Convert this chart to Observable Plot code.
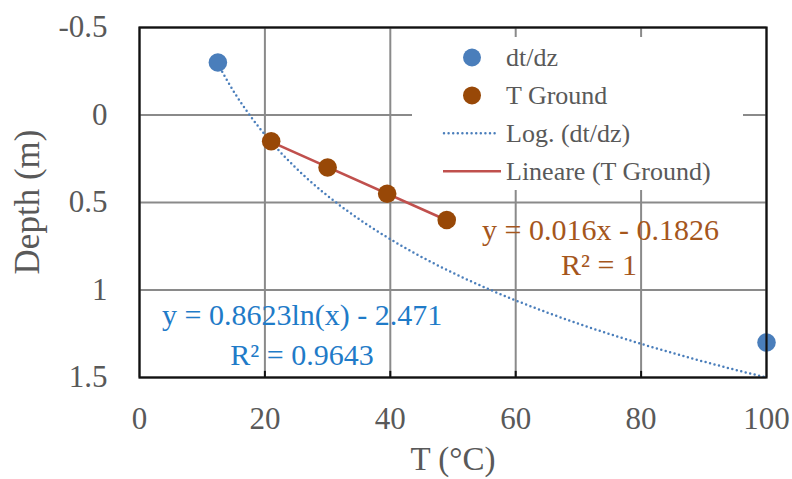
<!DOCTYPE html>
<html>
<head>
<meta charset="utf-8">
<script src="https://cdn.jsdelivr.net/npm/d3@7"></script>
<script src="https://cdn.jsdelivr.net/npm/@observablehq/plot@0.6"></script>
<style>
  html, body { margin: 0; padding: 0; background: #fff; }
  #chart { width: 792px; height: 479px; }
  svg { display: block; }
</style>
</head>
<body>
<div id="chart"></div>
<script>
// Measured points
const dtdzTemp = [12.5, 100];
const dtdzDepth = [-0.3, 1.3];
const groundTemp = [21, 30, 39.5, 49];
const groundDepth = [0.15, 0.3, 0.45, 0.6];

// Trendline coefficients, as printed on the chart
const logSlope = 0.8623, logIntercept = -2.471, logR2 = "0.9643";
const linSlope = 0.016, linIntercept = -0.1826, linR2 = "1";

// Axis ticks
const xTicks = [0, 20, 40, 60, 80, 100];
const yTicks = [-0.5, 0, 0.5, 1, 1.5];

const blue = "#4a7ebb", brown = "#984807", red = "#c0504d";
const blueText = "#1f7bc8", brownText = "#a5561c", grey = "#595959";
const font = "'Liberation Serif', 'Times New Roman', serif";

const dtdz = dtdzTemp.map((t, i) => ({t, d: dtdzDepth[i]}));
const ground = groundTemp.map((t, i) => ({t, d: groundDepth[i]}));

// Trend curves evaluated from their equations over each series' range
const logCurve = d3.range(dtdzTemp[0], dtdzTemp[1] + 0.001, 0.5)
  .map(t => ({t, d: logSlope * Math.log(t) + logIntercept}));
const linLine = [groundTemp[0], groundTemp[groundTemp.length - 1]]
  .map(t => ({t, d: linSlope * t + linIntercept}));

const dotted = {strokeWidth: 2.5, strokeDasharray: "0 4.6", strokeLinecap: "round"};

const chart = Plot.plot({
  width: 792,
  height: 479,
  marginLeft: 139,
  marginRight: 26,
  marginTop: 27,
  marginBottom: 102,
  style: {fontFamily: font, background: "#fff", overflow: "visible"},
  x: {domain: [0, 100], ticks: xTicks, label: null},
  y: {domain: [-0.5, 1.5], reverse: true, ticks: yTicks, label: null},
  marks: [
    Plot.gridX(xTicks, {stroke: "#8a8a8a", strokeOpacity: 1, strokeWidth: 2}),
    Plot.gridY(yTicks, {stroke: "#8a8a8a", strokeOpacity: 1, strokeWidth: 2}),
    Plot.ruleX(xTicks.slice(1, -1), {y1: 1.5, y2: 1.465, stroke: "#111", strokeWidth: 2}),
    Plot.axisX({ticks: xTicks, tickSize: 0, tickPadding: 29, fontSize: 31, fill: grey, tickFormat: d => String(d)}),
    Plot.axisY({ticks: yTicks, tickSize: 0, tickPadding: 32, fontSize: 31, fill: grey, tickFormat: d => String(d)}),
    Plot.line(logCurve, {x: "t", y: "d", stroke: blue, ...dotted}),
    Plot.line(linLine, {x: "t", y: "d", stroke: red, strokeWidth: 2.6}),
    Plot.dot(dtdz, {x: "t", y: "d", r: 9.3, fill: blue, stroke: "none"}),
    Plot.dot(ground, {x: "t", y: "d", r: 9.3, fill: brown, stroke: "none"}),
    Plot.frame({stroke: "#111", strokeWidth: 2.2})
  ]
});

document.getElementById("chart").appendChild(chart);

const svg = d3.select(chart);

// Trendline equations
const eq = svg.append("g").attr("font-family", font).attr("font-size", 30);
eq.append("text").attr("x", 162).attr("y", 325).attr("text-anchor", "start").attr("fill", blueText)
  .text(`y = ${logSlope}ln(x) - ${-logIntercept}`);
eq.append("text").attr("x", 302).attr("y", 365).attr("text-anchor", "middle").attr("fill", blueText)
  .text(`R² = ${logR2}`);
eq.append("text").attr("x", 482).attr("y", 240).attr("text-anchor", "start").attr("fill", brownText)
  .text(`y = ${linSlope}x - ${-linIntercept}`);
eq.append("text").attr("x", 599).attr("y", 275).attr("text-anchor", "middle").attr("fill", brownText)
  .text(`R² = ${linR2}`);

// Axis titles
svg.append("text")
  .attr("x", 453).attr("y", 470)
  .attr("text-anchor", "middle")
  .attr("font-family", font).attr("font-size", 33).attr("fill", grey)
  .text("T (°C)");
svg.append("text")
  .attr("transform", "translate(39,202) rotate(-90)")
  .attr("text-anchor", "middle")
  .attr("font-family", font).attr("font-size", 35).attr("fill", grey)
  .text("Depth (m)");

// Legend box
const lg = svg.append("g").attr("font-family", font).attr("font-size", 26).attr("fill", grey);
lg.append("rect").attr("x", 412).attr("y", 37).attr("width", 331).attr("height", 153).attr("fill", "#fff");
const rows = [
  {label: "dt/dz", kind: "dot", color: blue},
  {label: "T Ground", kind: "dot", color: brown},
  {label: "Log. (dt/dz)", kind: "dotted", color: blue},
  {label: "Lineare (T Ground)", kind: "line", color: red}
];
rows.forEach((r, i) => {
  const cy = 57.5 + i * 37.9;
  if (r.kind === "dot") {
    lg.append("circle").attr("cx", 472).attr("cy", cy).attr("r", 9).attr("fill", r.color);
  } else if (r.kind === "dotted") {
    lg.append("line").attr("x1", 444).attr("x2", 497).attr("y1", cy).attr("y2", cy)
      .attr("stroke", r.color).attr("stroke-width", dotted.strokeWidth)
      .attr("stroke-dasharray", dotted.strokeDasharray).attr("stroke-linecap", "round");
  } else {
    lg.append("line").attr("x1", 443).attr("x2", 501).attr("y1", cy).attr("y2", cy)
      .attr("stroke", r.color).attr("stroke-width", 2.6);
  }
  lg.append("text").attr("x", 506).attr("y", cy).attr("dy", "0.33em")
    .attr("text-anchor", "start").text(r.label);
});
</script>
</body>
</html>
